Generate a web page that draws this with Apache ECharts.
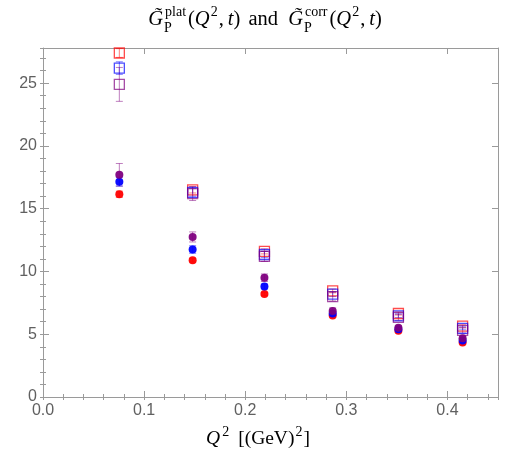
<!DOCTYPE html>
<html><head><meta charset="utf-8">
<script src="https://cdn.jsdelivr.net/npm/echarts@6/dist/echarts.min.js"></script>
<style>html,body{margin:0;padding:0;background:#fff}#c{width:525px;height:464px}</style>
</head><body><div id="c"></div>
<script>
// ---- data ----
const q2 = [0.0755, 0.148, 0.219, 0.2865, 0.3515, 0.415];
const sqRed    = [27.4, 16.5, 11.6, 8.45, 6.65, 5.65];
const sqBlue   = [26.2, 16.3, 11.35, 8.2, 6.47, 5.47];
const sqPurple = [24.9, 16.2, 11.2, 8.0, 6.35, 5.3];
const ciPurple = [17.7, 12.75, 9.5, 6.85, 5.52, 4.67];
const ciBlue   = [17.15, 11.75, 8.8, 6.65, 5.4, 4.5];
const ciRed    = [16.15, 10.9, 8.2, 6.5, 5.27, 4.35];
const sqRedErr    = [0.35, 0.25, 0.2, 0.15, 0.12, 0.1];
const sqBlueErr   = [0.5, 0.3, 0.25, 0.2, 0.15, 0.12];
const sqPurpleErr = [1.35, 0.55, 0.4, 0.35, 0.25, 0.2];
const ciPurpleErr = [0.9, 0.4, 0.3, 0.25, 0.15, 0.15];
const ciBlueErr   = [0.35, 0.3, 0.2, 0.15, 0.1, 0.1];
const ciRedErr    = [0.25, 0.15, 0.12, 0.1, 0.08, 0.08];
const xTicks = [0.0, 0.1, 0.2, 0.3, 0.4];
const yTicks = [0, 5, 10, 15, 20, 25];

const RED = '#ff0000', BLUE = '#0000ff', PURPLE = '#800080';
const AX = '#9a9a9a', LBL = '#606060';

function errSeries(vals, errs, color) {
  return {
    type: 'custom', xAxisIndex: 0, yAxisIndex: 0, silent: true, z: 2,
    data: q2.map((x, i) => [x, vals[i] - errs[i], vals[i] + errs[i]]),
    encode: {x: 0, y: [1, 2]},
    renderItem(params, api) {
      const lo = api.coord([api.value(0), api.value(1)]);
      const hi = api.coord([api.value(0), api.value(2)]);
      const w = 3.5;
      const st = {stroke: color, lineWidth: 1, opacity: 0.5};
      return {type: 'group', children: [
        {type: 'line', shape: {x1: lo[0], y1: lo[1], x2: hi[0], y2: hi[1]}, style: st},
        {type: 'line', shape: {x1: lo[0] - w, y1: lo[1], x2: lo[0] + w, y2: lo[1]}, style: st},
        {type: 'line', shape: {x1: hi[0] - w, y1: hi[1], x2: hi[0] + w, y2: hi[1]}, style: st}
      ]};
    }
  };
}
function sqSeries(vals, color) {
  return {type: 'scatter', xAxisIndex: 0, yAxisIndex: 0, z: 3, symbol: 'rect', symbolSize: 10,
    data: q2.map((x, i) => [x, vals[i]]),
    itemStyle: {color: 'rgba(255,255,255,0)', borderColor: color, borderWidth: 1.3, opacity: 0.7}};
}
function ciSeries(vals, color) {
  return {type: 'scatter', xAxisIndex: 0, yAxisIndex: 0, z: 3, symbol: 'circle', symbolSize: 8,
    data: q2.map((x, i) => [x, vals[i]]),
    itemStyle: {color: color, opacity: 0.95}};
}

const grid = {left: 43, right: 27, top: 48, bottom: 67};
const fontLbl = {color: LBL, fontSize: 16, fontFamily: 'Liberation Sans'};
function majorX(pos, show) {
  return {type: 'value', gridIndex: 0, position: pos, min: 0, max: 0.45, interval: 0.1,
    axisLine: {show: true, onZero: false, lineStyle: {color: AX, width: 1}},
    axisTick: {show: true, inside: true, length: 6, lineStyle: {color: AX}},
    splitLine: {show: false},
    axisLabel: Object.assign({show: show, margin: 6, showMaxLabel: false,
      formatter: v => xTicks.some(t => Math.abs(t - v) < 1e-9) ? v.toFixed(1) : ''}, fontLbl)};
}
function minorX(pos) {
  return {type: 'value', gridIndex: 1, position: pos, min: 0, max: 0.45, interval: 0.02,
    axisLine: {show: false}, axisTick: {show: true, inside: true, length: 3, lineStyle: {color: AX}},
    splitLine: {show: false}, axisLabel: {show: false}};
}
function majorY(pos, show) {
  return {type: 'value', gridIndex: 0, position: pos, min: 0, max: 27.8, interval: 5,
    axisLine: {show: true, onZero: false, lineStyle: {color: AX, width: 1}},
    axisTick: {show: true, inside: true, length: 6, lineStyle: {color: AX}},
    splitLine: {show: false},
    axisLabel: Object.assign({show: show, margin: 6, showMaxLabel: false,
      formatter: v => yTicks.indexOf(v) >= 0 ? String(v) : ''}, fontLbl)};
}
function minorY(pos) {
  return {type: 'value', gridIndex: 1, position: pos, min: 0, max: 27.8, interval: 1,
    axisLine: {show: false}, axisTick: {show: true, inside: true, length: 3, lineStyle: {color: AX}},
    splitLine: {show: false}, axisLabel: {show: false}};
}

// ---- math text layout ----
const ctx = document.createElement('canvas').getContext('2d');
function mw(t, f) { ctx.font = f; return ctx.measureText(t).width; }
const SERIF = '"Liberation Serif"';
function mathText(pieces, cx, cy, size) {
  const R = size + 'px ' + SERIF, I = 'italic ' + size + 'px ' + SERIF, S = Math.round(size * 0.7) + 'px ' + SERIF;
  const fonts = {r: R, i: I, s: S};
  const items = []; let x = 0;
  for (const p of pieces) {
    if (p.stack) {
      const w1 = mw(p.stack[0], S), w2 = mw(p.stack[1], S);
      items.push({t: p.stack[0], f: S, x: x + (p.k || 0), dy: -size * 0.36});
      items.push({t: p.stack[1], f: S, x: x, dy: size * 0.42});
      x += Math.max(w1 + (p.k || 0), w2) + 1 + (p.a || 0);
    } else {
      const f = fonts[p.f];
      items.push({t: p.t, f: f, x: x + (p.k || 0), dy: p.f === 's' ? -size * 0.36 : 0});
      x += mw(p.t, f) + (p.k || 0) + (p.a || 0);
    }
  }
  const x0 = cx - x / 2;
  return items.map(it => ({type: 'text', x: x0 + it.x, y: cy + it.dy, z: 10,
    style: {text: it.t, font: it.f, fill: '#000', align: 'left', verticalAlign: 'middle'}}));
}
const titlePieces = [
  {t: 'G\u0303', f: 'i', a: 1}, {stack: ['plat', 'P'], k: 1, a: 1},
  {t: '(', f: 'r'}, {t: 'Q', f: 'i', a: 0}, {t: '2', f: 's', k: 1, a: 1}, {t: ',', f: 'r', a: 4}, {t: 't', f: 'i'}, {t: ')', f: 'r'},
  {t: ' and ', f: 'r', k: 3, a: 5},
  {t: 'G\u0303', f: 'i', a: 1}, {stack: ['corr', 'P'], k: 1, a: 1},
  {t: '(', f: 'r'}, {t: 'Q', f: 'i', a: 0}, {t: '2', f: 's', k: 1, a: 1}, {t: ',', f: 'r', a: 4}, {t: 't', f: 'i'}, {t: ')', f: 'r'}
];
const xNamePieces = [
  {t: 'Q', f: 'i', a: 1}, {t: '2', f: 's', k: 1, a: 9}, {t: '[(GeV)', f: 'r'}, {t: '2', f: 's', k: 1}, {t: ']', f: 'r', k: 1}
];

const chart = echarts.init(document.getElementById('c'), null, {renderer: 'canvas'});
chart.setOption({
  animation: false,
  backgroundColor: '#fff',
  grid: [grid, Object.assign({}, grid)],
  xAxis: [majorX('bottom', true), majorX('top', false), minorX('bottom'), minorX('top')],
  yAxis: [majorY('left', true), majorY('right', false), minorY('left'), minorY('right')],
  series: [
    errSeries(sqRed, sqRedErr, RED), errSeries(sqBlue, sqBlueErr, BLUE), errSeries(sqPurple, sqPurpleErr, PURPLE),
    errSeries(ciPurple, ciPurpleErr, PURPLE), errSeries(ciBlue, ciBlueErr, BLUE), errSeries(ciRed, ciRedErr, RED),
    sqSeries(sqRed, RED), sqSeries(sqBlue, BLUE), sqSeries(sqPurple, PURPLE),
    ciSeries(ciRed, RED), ciSeries(ciBlue, BLUE), ciSeries(ciPurple, PURPLE),
    {type: 'scatter', xAxisIndex: 2, yAxisIndex: 2, data: []}
  ],
  graphic: mathText(titlePieces, 265, 20, 20.5).concat(mathText(xNamePieces, 258, 439, 19.5))
});
</script>
</body></html>
